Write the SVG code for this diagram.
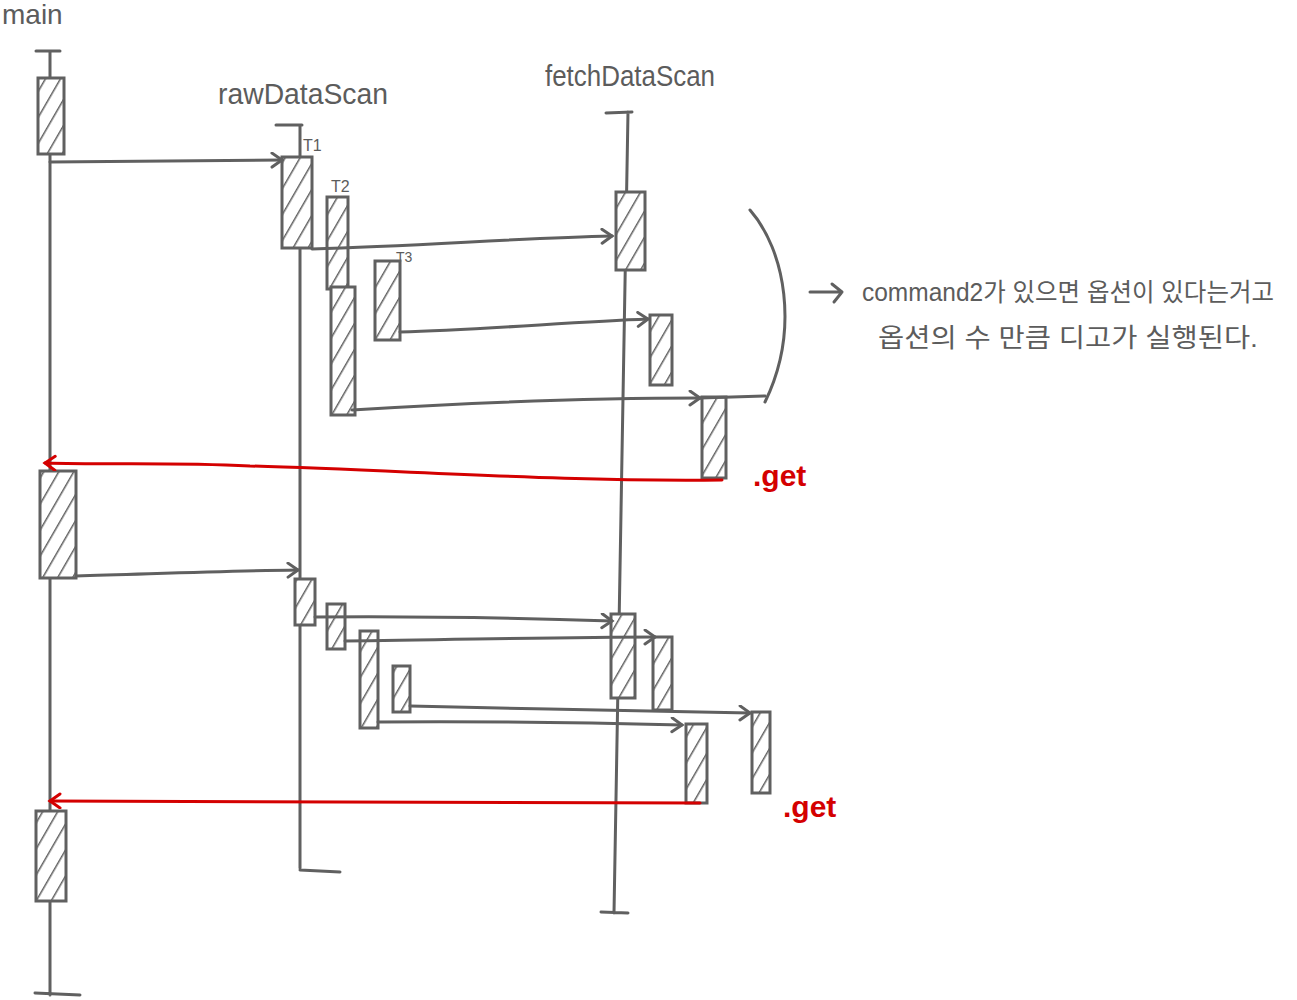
<svg xmlns="http://www.w3.org/2000/svg" width="1297" height="1000" viewBox="0 0 1297 1000">
<style>
.ln{stroke:#606060;stroke-width:3;fill:none;stroke-linecap:round;stroke-linejoin:round}
.act{stroke:#606060;stroke-width:3;fill:url(#hatch)}
.red{stroke:#d40000;stroke-width:3;fill:none;stroke-linecap:round}
.lbl{font-family:"Liberation Sans","Noto Sans CJK KR",sans-serif;fill:#5c5c5c}
.redt{font-family:"Liberation Sans",sans-serif;fill:#d40000;font-weight:bold}
</style>
<defs>
<pattern id="hatch" patternUnits="userSpaceOnUse" width="13" height="13" patternTransform="rotate(30)">
<rect width="13" height="13" fill="#fff"/>
<line x1="0" y1="0" x2="0" y2="13" stroke="#606060" stroke-width="3"/>
</pattern>
<marker id="ah" markerUnits="userSpaceOnUse" markerWidth="20" markerHeight="20" refX="12" refY="8" orient="auto">
<path d="M2,1 L12,8 L2,15" fill="none" stroke="#606060" stroke-width="3" stroke-linecap="round"/>
</marker>
<marker id="ahr" markerUnits="userSpaceOnUse" markerWidth="20" markerHeight="20" refX="12" refY="8" orient="auto">
<path d="M2,1 L12,8 L2,15" fill="none" stroke="#d40000" stroke-width="3" stroke-linecap="round"/>
</marker>
</defs>

<g id="main">
<text class="lbl" x="2" y="24" font-size="28">main</text>
<path class="ln" d="M36,51 L60,51 M50,51 L50,995 M35,993 L80,995"/>
<rect class="act" x="38" y="78" width="26" height="76"/>
<rect class="act" x="40" y="471" width="36" height="107"/>
<rect class="act" x="36" y="811" width="30" height="90"/>
</g>

<g id="rawDataScan">
<text class="lbl" x="218" y="104" font-size="30" textLength="170" lengthAdjust="spacingAndGlyphs">rawDataScan</text>
<path class="ln" d="M276,125 L302,125 M300,125 L300,868 M300,870 L340,872"/>
<text class="lbl" x="303" y="151" font-size="16">T1</text>
<rect class="act" x="282" y="157" width="30" height="91"/>
<text class="lbl" x="331" y="192" font-size="16">T2</text>
<rect class="act" x="327" y="197" width="21" height="92"/>
<rect class="act" x="331" y="287" width="24" height="128"/>
<text class="lbl" x="396" y="262" font-size="14">T3</text>
<rect class="act" x="375" y="261" width="25" height="79"/>
<rect class="act" x="295" y="579" width="20" height="46"/>
<rect class="act" x="327" y="604" width="18" height="45"/>
<rect class="act" x="360" y="631" width="18" height="97"/>
<rect class="act" x="393" y="666" width="17" height="46"/>
</g>

<g id="fetchDataScan">
<text class="lbl" x="545" y="86" font-size="30" textLength="170" lengthAdjust="spacingAndGlyphs">fetchDataScan</text>
<path class="ln" d="M606,113 L632,112 M628,112 L614,913 M601,912 L628,913"/>
<rect class="act" x="616" y="192" width="29" height="78"/>
<rect class="act" x="650" y="315" width="22" height="70"/>
<rect class="act" x="702" y="397" width="24" height="81"/>
<rect class="act" x="611" y="614" width="24" height="84"/>
<rect class="act" x="653" y="637" width="19" height="73"/>
<rect class="act" x="686" y="724" width="21" height="79"/>
<rect class="act" x="752" y="712" width="18" height="81"/>
</g>

<g id="note">
<path class="ln" d="M750,210 C785,250 800,330 765,402"/>
<path class="ln" d="M810,292 L842,292 M832,284 L842,292 L834,302"/>
<text class="lbl" x="862" y="301" font-size="25" textLength="412" lengthAdjust="spacingAndGlyphs">command2가 있으면 옵션이 있다는거고</text>
<text class="lbl" x="878" y="347" font-size="26" textLength="380" lengthAdjust="spacingAndGlyphs">옵션의 수 만큼 디고가 실행된다.</text>
</g>

<g id="labels">
<text class="redt" x="753" y="486" font-size="30">.get</text>
<text class="redt" x="783" y="817" font-size="30">.get</text>
</g>

<g id="connectors">
<path class="ln" d="M50,162 L282,160" marker-end="url(#ah)"/>
<path class="ln" d="M312,249 C420,246 520,238 612,236" marker-end="url(#ah)"/>
<path class="ln" d="M400,332 C480,330 570,322 648,319" marker-end="url(#ah)"/>
<path class="ln" d="M352,410 C450,404 580,398 700,398" marker-end="url(#ah)"/>
<path class="ln" d="M700,398 L765,396"/>
<path class="red" d="M722,480 C560,482 400,470 250,466 C170,462 110,465 45,463" marker-end="url(#ahr)"/>
<path class="ln" d="M76,576 C150,574 220,571 298,570" marker-end="url(#ah)"/>
<path class="ln" d="M315,617 C420,616 520,618 612,621" marker-end="url(#ah)"/>
<path class="ln" d="M345,641 C450,640 560,637 655,637" marker-end="url(#ah)"/>
<path class="ln" d="M410,706 C520,708 650,712 750,713" marker-end="url(#ah)"/>
<path class="ln" d="M378,722 C480,721 600,723 682,725" marker-end="url(#ah)"/>
<path class="red" d="M700,803 C520,803 300,800 50,801" marker-end="url(#ahr)"/>
</g>
</svg>
